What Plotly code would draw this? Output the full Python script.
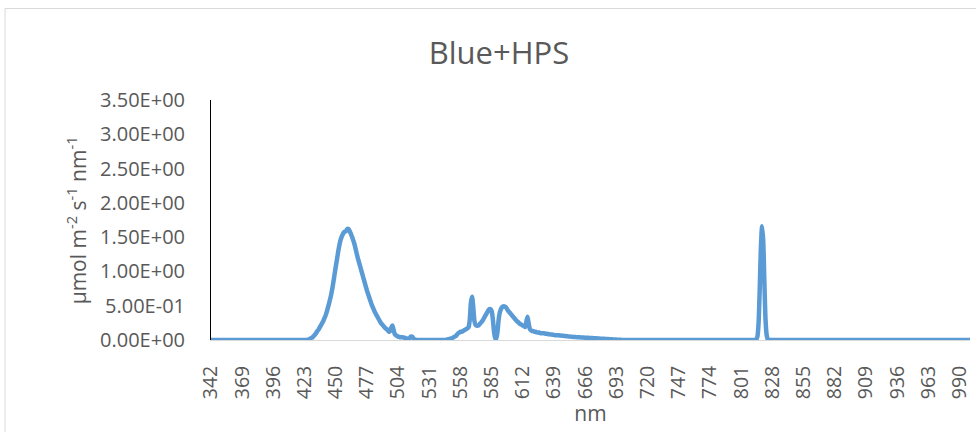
import plotly.graph_objects as go

# Spectral photon irradiance of a blue LED + high-pressure sodium lamp setup,
# sampled every 1 nm from 342 to 999 nm. Outside the listed bands the
# measured irradiance is zero.
wl_first = 342
wl_last = 999

blue_band_start = 425
blue_band = [
    0.00, 0.005, 0.01, 0.02, 0.03, 0.04, 0.06, 0.08, 0.10, 0.13,   # 425-434
    0.15, 0.18, 0.21, 0.24, 0.27, 0.31, 0.35, 0.40, 0.46, 0.52,    # 435-444
    0.59, 0.66, 0.75, 0.85, 0.96, 1.07, 1.17, 1.28, 1.37, 1.45,    # 445-454
    1.50, 1.54, 1.57, 1.58, 1.59, 1.62, 1.62, 1.59, 1.55, 1.51,    # 455-464
    1.46, 1.41, 1.34, 1.27, 1.20, 1.14, 1.08, 1.02, 0.96, 0.90,    # 465-474
    0.84, 0.78, 0.72, 0.67, 0.62, 0.57, 0.52, 0.48, 0.44, 0.40,    # 475-484
    0.37, 0.34, 0.31, 0.28, 0.25, 0.23, 0.21, 0.19, 0.17, 0.16,    # 485-494
    0.14, 0.12, 0.13, 0.18, 0.21, 0.15, 0.09, 0.07, 0.06, 0.05,    # 495-504
    0.045, 0.04, 0.04, 0.04, 0.035, 0.03, 0.025, 0.02, 0.02, 0.03, # 505-514
    0.05, 0.05, 0.03, 0.01, 0.005, 0.00,                           # 515-520
]

hps_band_start = 545
hps_band = [
    0.00, 0.005, 0.01, 0.01, 0.02, 0.02, 0.03, 0.04, 0.05, 0.06,   # 545-554
    0.08, 0.10, 0.11, 0.12, 0.12, 0.13, 0.14, 0.15, 0.16, 0.17,    # 555-564
    0.19, 0.30, 0.55, 0.63, 0.48, 0.28, 0.22, 0.21, 0.21, 0.22,    # 565-574
    0.24, 0.26, 0.28, 0.31, 0.34, 0.37, 0.40, 0.43, 0.45, 0.45,    # 575-584
    0.42, 0.30, 0.12, 0.03, 0.02, 0.12, 0.30, 0.40, 0.45, 0.48,    # 585-594
    0.49, 0.49, 0.48, 0.46, 0.43, 0.41, 0.39, 0.37, 0.35, 0.33,    # 595-604
    0.31, 0.29, 0.27, 0.26, 0.24, 0.23, 0.22, 0.21, 0.20, 0.19,    # 605-614
    0.27, 0.34, 0.24, 0.16, 0.14, 0.13, 0.13, 0.12, 0.12, 0.11,    # 615-624
    0.11, 0.11, 0.10, 0.10, 0.10, 0.10, 0.095, 0.09, 0.09, 0.085,  # 625-634
    0.085, 0.08, 0.08, 0.075, 0.075, 0.07, 0.07, 0.07, 0.068, 0.066, # 635-644
    0.065, 0.063, 0.061, 0.059, 0.057, 0.055, 0.053, 0.051, 0.049, 0.047, # 645-654
    0.046, 0.045, 0.044, 0.042, 0.041, 0.04, 0.039, 0.038, 0.037, 0.036,  # 655-664
    0.035, 0.034, 0.033, 0.032, 0.031, 0.03, 0.029, 0.028, 0.027, 0.026,  # 665-674
    0.025, 0.024, 0.022, 0.021, 0.02, 0.019, 0.018, 0.017, 0.016, 0.015,  # 675-684
    0.014, 0.013, 0.012, 0.011, 0.01, 0.009, 0.008, 0.007, 0.006, 0.005,  # 685-694
    0.004, 0.003, 0.002, 0.001, 0.00,                                     # 695-699
]

ir_line_start = 813
ir_line = [0.00, 0.01, 0.05, 0.25, 0.75, 1.35, 1.66, 1.45, 0.85, 0.30,
           0.07, 0.01, 0.00]   # 813-825

wavelengths = list(range(wl_first, wl_last + 1))
values = {nm: 0.0 for nm in wavelengths}
for start, band in ((blue_band_start, blue_band),
                    (hps_band_start, hps_band),
                    (ir_line_start, ir_line)):
    for i, v in enumerate(band):
        values[start + i] = v
irradiance = [values[nm] for nm in wavelengths]

x_tick_labels = list(range(342, 991, 27))
y_tick_vals = [0.0, 0.5, 1.0, 1.5, 2.0, 2.5, 3.0, 3.5]
y_tick_text = ["0.00E+00", "5.00E-01", "1.00E+00", "1.50E+00",
               "2.00E+00", "2.50E+00", "3.00E+00", "3.50E+00"]

TEXT = "#595959"
FONT = "Open Sans"

fig = go.Figure()
fig.add_trace(go.Scatter(
    x=wavelengths, y=irradiance, mode="lines",
    line=dict(color="#5B9BD5", width=4.5, shape="spline", smoothing=0.6),
    hoverinfo="x+y", showlegend=False,
))

W, H = 976, 432
L, R, T, B = 211, 4, 100, 92
pw, ph = W - L - R, H - T - B

# outer chart frame
fig.add_shape(type="rect", xref="paper", yref="paper",
              x0=(4.5 - L) / pw, x1=1.2, y0=-1.0, y1=(H - B - 8.5) / ph,
              line=dict(color="#D9D9D9", width=1), layer="below")

# vertical axis title
fig.add_annotation(
    text="µmol m<sup>-2</sup> s<sup>-1</sup> nm<sup>-1</sup>",
    xref="paper", yref="paper", x=(76 - L) / pw, y=0.5,
    xanchor="center", yanchor="middle", textangle=-90, showarrow=False,
    font=dict(family=FONT, size=21, color=TEXT),
)

fig.update_layout(
    width=W, height=H,
    margin=dict(l=L, r=R, t=T, b=B, pad=0),
    paper_bgcolor="white", plot_bgcolor="white",
    font=dict(family=FONT, color=TEXT, size=20),
    title=dict(text="Blue+HPS", x=499 / W, xref="container", xanchor="center",
               y=1 - 53 / H, yref="container", yanchor="middle",
               font=dict(family=FONT, size=31, color=TEXT)),
    xaxis=dict(
        range=[wl_first, wl_last], tickmode="array", tickvals=x_tick_labels,
        ticktext=[str(v) for v in x_tick_labels], tickangle=-90,
        ticks="", ticklabelstandoff=17,
        tickfont=dict(family=FONT, size=19.5, color=TEXT),
        showline=True, linecolor="#D9D9D9", linewidth=1,
        showgrid=False, zeroline=False,
        title=dict(text="nm", standoff=4,
                   font=dict(family=FONT, size=21, color=TEXT)),
    ),
    yaxis=dict(
        range=[0, 3.5], tickmode="array", tickvals=y_tick_vals,
        ticktext=y_tick_text, ticks="", ticklabelstandoff=21,
        tickfont=dict(family=FONT, size=20, color=TEXT),
        showline=True, linecolor="#000000", linewidth=1,
        showgrid=False, zeroline=False,
    ),
)

fig.write_html("out.html")
